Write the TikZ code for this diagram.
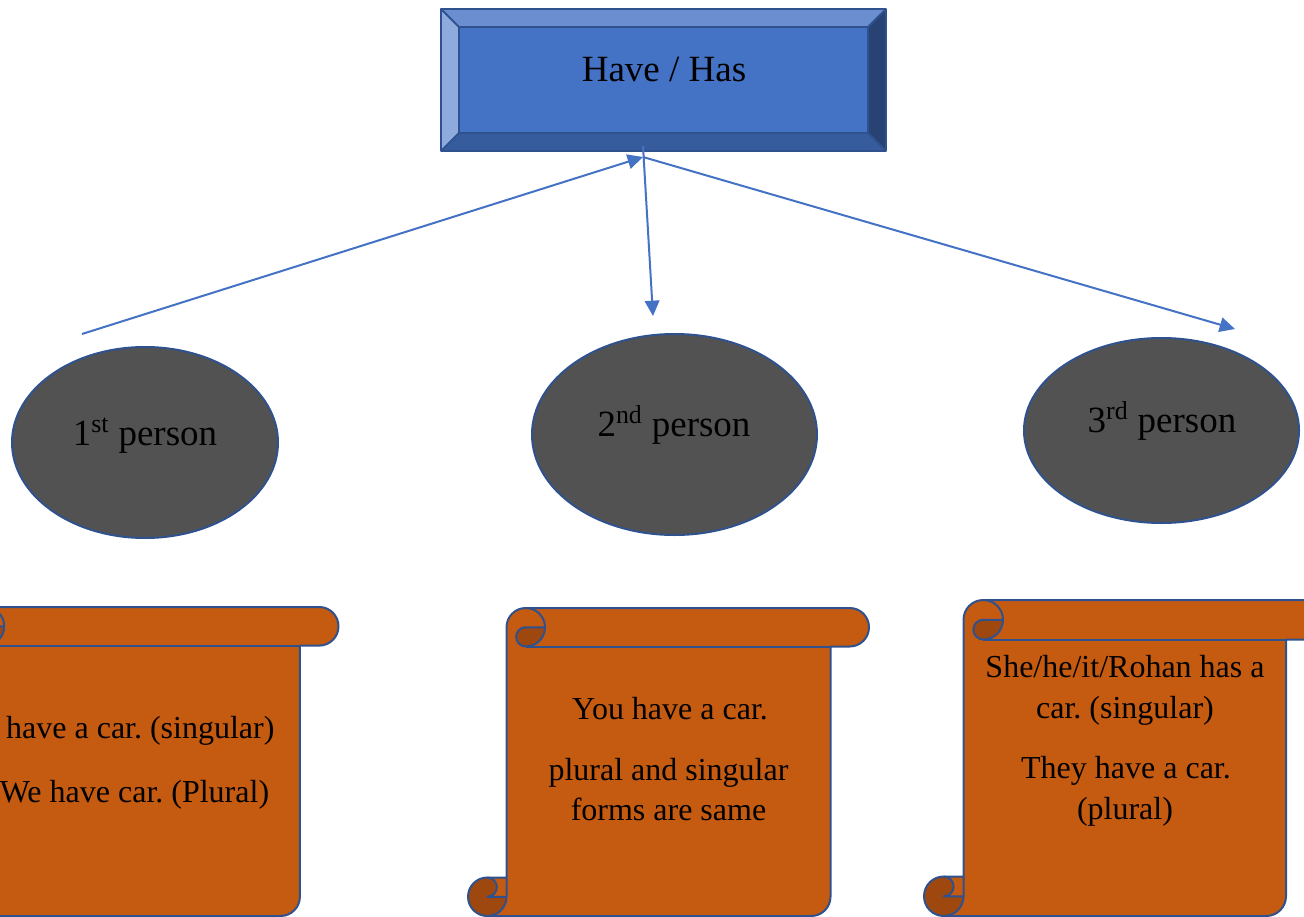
\documentclass[tikz,border=0pt]{standalone}
\usepackage{fontspec}
\setmainfont{Liberation Serif}
\frenchspacing
\usetikzlibrary{arrows.meta,shapes.geometric}
\definecolor{bevelface}{HTML}{4472C4}
\definecolor{beveltop}{HTML}{6A8ED0}
\definecolor{bevelleft}{HTML}{8FAADC}
\definecolor{bevelbottom}{HTML}{375C9E}
\definecolor{bevelright}{HTML}{284273}
\definecolor{edgeblue}{HTML}{2F528F}
\definecolor{arrowblue}{HTML}{4472C4}
\definecolor{ellgray}{HTML}{525252}
\definecolor{scrollorange}{HTML}{C55A11}
\definecolor{scrolldark}{HTML}{9E4810}
\tikzset{
  conn/.style={draw=arrowblue, line width=1.5pt, -{Triangle[length=11.5pt,width=11pt]}},
  edge line/.style={draw=edgeblue, line width=1.5pt, line join=round},
  personell/.style={ellipse, draw=edgeblue, line width=1.5pt, fill=ellgray, inner sep=0pt},
  bigtext/.style={anchor=base, inner sep=0pt, font=\fontsize{27.75pt}{33pt}\selectfont},
  scrolltext/.style={anchor=base, inner sep=0pt, font=\fontsize{24pt}{30pt}\selectfont},
}
\newcommand\drawscroll[5]{%
  \pgfmathsetmacro\sL{#1}\pgfmathsetmacro\sT{#2}\pgfmathsetmacro\sR{#3}\pgfmathsetmacro\sB{#4}%
  \pgfmathsetmacro\cHh{#5/2}\pgfmathsetmacro\cHq{#5/4}%
  \pgfmathsetmacro\xA{\sL+#5}\pgfmathsetmacro\xB{\sL+#5/2}%
  \pgfmathsetmacro\xC{\sL+1.5*#5}\pgfmathsetmacro\xD{\sL+2*#5}%
  \pgfmathsetmacro\xF{\sR-#5}\pgfmathsetmacro\xG{\sR-#5/2}\pgfmathsetmacro\xE{\xF-#5/2}%
  \pgfmathsetmacro\yA{\sT+#5}\pgfmathsetmacro\yB{\sT+#5/2}%
  \pgfmathsetmacro\yC{\sB-#5}\pgfmathsetmacro\yD{\sB-#5/2}%
  \fill[scrollorange] (\xA,\yC) -- (\xA,\yB) arc[start angle=180, delta angle=90, radius=\cHh]
     -- (\xG,\sT) arc[start angle=270, delta angle=180, radius=\cHh] -- (\xF,\yA) -- (\xF,\yD)
     arc[start angle=0, delta angle=90, radius=\cHh] -- (\xB,\sB)
     arc[start angle=90, delta angle=180, radius=\cHh] -- cycle;
  \fill[scrolldark] (\xD,\yB) arc[start angle=0, delta angle=90, radius=\cHh]
     arc[start angle=90, delta angle=180, radius=\cHq] -- cycle;
  \fill[scrolldark] (\xA,\yD) arc[start angle=0, delta angle=270, radius=\cHh]
     arc[start angle=270, delta angle=180, radius=\cHq] -- cycle;
  \draw[edge line] (\xA,\yC) -- (\xA,\yB) arc[start angle=180, delta angle=90, radius=\cHh]
     -- (\xG,\sT) arc[start angle=270, delta angle=180, radius=\cHh] -- (\xF,\yA) -- (\xF,\yD)
     arc[start angle=0, delta angle=90, radius=\cHh] -- (\xB,\sB)
     arc[start angle=90, delta angle=180, radius=\cHh] -- cycle;
  \draw[edge line] (\xC,\sT) arc[start angle=270, delta angle=180, radius=\cHh]
     arc[start angle=90, delta angle=180, radius=\cHq] -- (\xD,\yB);
  \draw[edge line] (\xF,\yA) -- (\xC,\yA);
  \draw[edge line] (\xB,\yC) arc[start angle=270, delta angle=180, radius=\cHq] -- (\xA,\yD);
  \draw[edge line] (\xB,\sB) arc[start angle=90, delta angle=-90, radius=\cHh] -- (\xA,\yC);
}
\begin{document}
\begin{tikzpicture}[x=0.75pt, y=-0.75pt]
\useasboundingbox (0,0) rectangle (1304,917);
\clip (0,0) rectangle (1304,917);
% top bevel box
\coordinate (onw) at (441,9);   \coordinate (one) at (886,9);
\coordinate (osw) at (441,151); \coordinate (ose) at (886,151);
\coordinate (inw) at (459,27);  \coordinate (ine) at (868,27);
\coordinate (isw) at (459,133); \coordinate (ise) at (868,133);
\fill[bevelface] (inw) rectangle (ise);
\fill[beveltop] (onw) -- (one) -- (ine) -- (inw) -- cycle;
\fill[bevelleft] (onw) -- (inw) -- (isw) -- (osw) -- cycle;
\fill[bevelbottom] (osw) -- (isw) -- (ise) -- (ose) -- cycle;
\fill[bevelright] (one) -- (ose) -- (ise) -- (ine) -- cycle;
\draw[edge line] (onw) rectangle (ose);
\draw[edge line] (inw) rectangle (ise);
\draw[edge line] (onw) -- (inw) (one) -- (ine) (osw) -- (isw) (ose) -- (ise);
\node[bigtext] (top) at (664,82) {Have / Has};
% ellipses
\node[personell, minimum width=199.5pt, minimum height=143.25pt] (e1) at (145,442.5) {};
\node[personell, minimum width=213.75pt, minimum height=150.75pt] (e2) at (674.5,434.5) {};
\node[personell, minimum width=206.25pt, minimum height=138.75pt] (e3) at (1161.5,430.5) {};
\node[bigtext] (t1) at (145,445) {1\textsuperscript{st} person};
\node[bigtext] (t2) at (674,436) {2\textsuperscript{nd} person};
\node[bigtext] (t3) at (1162,432) {3\textsuperscript{rd} person};
% connectors
\coordinate (a1s) at (82,334);
\coordinate (hub) at (643,157);
\coordinate (a2s) at (643,146);
\coordinate (a2e) at (653,316);
\coordinate (a3e) at (1235,329);
\draw[conn] (a1s) -- (hub);
\draw[conn] (a2s) -- (a2e);
\draw[conn] (hub) -- (a3e);
% scrolls
\drawscroll{-73}{607}{338.5}{916}{38.6}
\drawscroll{468}{608}{869}{916}{38.5}
\drawscroll{924}{600}{1325.5}{916}{39.5}
\node[scrolltext] (s1a) at (131,738) {I have a car. (singular)};
\node[scrolltext] (s1b) at (134.5,802) {We have car. (Plural)};
\node[scrolltext] (s2a) at (670,719) {You have a car.};
\node[scrolltext] (s2b) at (668.5,780) {plural and singular};
\node[scrolltext] (s2c) at (668.5,820) {forms are same};
\node[scrolltext] (s3a) at (1125,677) {She/he/it/Rohan has a};
\node[scrolltext] (s3b) at (1125,718) {car. (singular)};
\node[scrolltext] (s3c) at (1126,778) {They have a car.};
\node[scrolltext] (s3d) at (1125,819) {(plural)};
\end{tikzpicture}
\end{document}
